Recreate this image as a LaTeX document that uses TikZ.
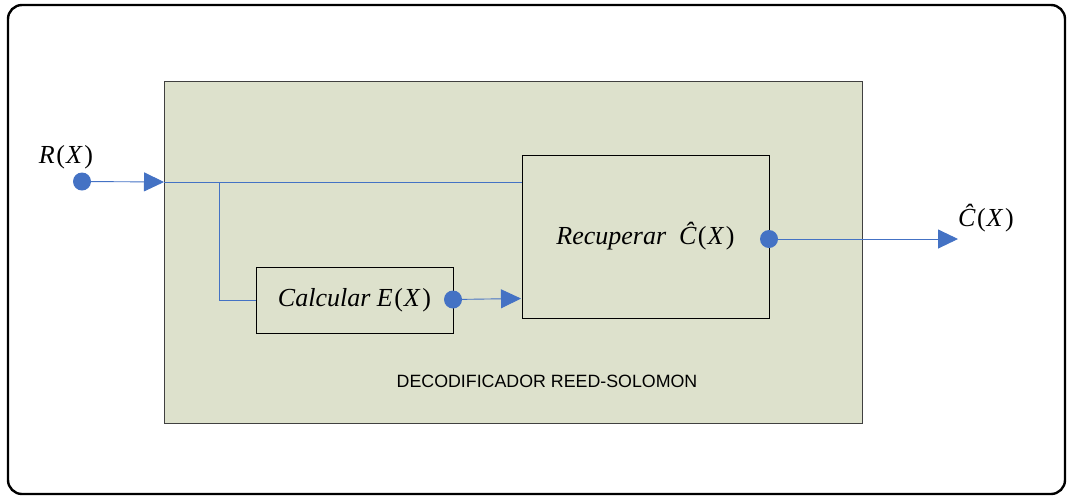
\documentclass[tikz,border=0pt]{standalone}
\usepackage{fontspec}
\setmainfont{Liberation Serif}
\setsansfont{Liberation Sans}
\usetikzlibrary{arrows.meta}
\definecolor{boxgreen}{RGB}{221,225,204}
\definecolor{linkblue}{RGB}{68,114,196}
\newcommand{\ofX}{\kern1.5pt\textup{(}\kern1pt X\kern2.5pt\textup{)}}
\begin{document}
\begin{tikzpicture}[x=1pt,y=-1pt,
  frame/.style={draw=black,line width=2.4pt,rounded corners=14pt},
  panel/.style={draw=black!75,fill=boxgreen,line width=0.9pt,inner sep=0pt},
  block/.style={draw=black,line width=0.9pt,inner sep=0pt,font=\fontsize{26}{30}\selectfont\itshape},
  dot/.style={circle,fill=linkblue,inner sep=0pt,minimum size=18pt},
  link/.style={draw=linkblue,line width=0.9pt},
  arr/.style={link,-{Triangle[length=20pt,width=19pt]}},
  mathlbl/.style={font=\fontsize{26}{30}\selectfont\itshape,inner sep=0pt},
]
\useasboundingbox (0,0) rectangle (1070,499);
\draw[frame] (8,5) rectangle (1065,494);
\node[panel,minimum width=698pt,minimum height=342pt] (dec) at (513,252) {};
\node[font=\fontsize{17.8}{20}\sffamily,inner sep=0pt] (declbl) at (547,381) {DECODIFICADOR REED-SOLOMON};
\node[block,minimum width=247pt,minimum height=163pt] (rec) at (645.5,236.5) {Recuperar\ \ \^C\ofX};
\node[block,minimum width=197pt,minimum height=66pt] (calc) at (354.5,300) {Calcular E\ofX};
\node[dot] (rdot) at (82,181.5) {};
\node[dot] (edot) at (453,299.5) {};
\node[dot] (cdot) at (769,239) {};
\node[mathlbl] (rlbl) at (66,157) {R\ofX};
\node[mathlbl] (clbl) at (986,218) {\^C\ofX};
\coordinate (in) at (164,182);
\coordinate (br) at (219,182);
\coordinate (recin) at (521,298.5);
\coordinate (out) at (958,239);
\draw[arr] (rdot) -- (in);
\draw[link] (in) -- (rec.west |- in);
\draw[link] (br) -- (br |- calc.west) -- (calc.west);
\draw[arr] (edot) -- (recin);
\draw[arr] (cdot) -- (out);
\end{tikzpicture}
\end{document}
